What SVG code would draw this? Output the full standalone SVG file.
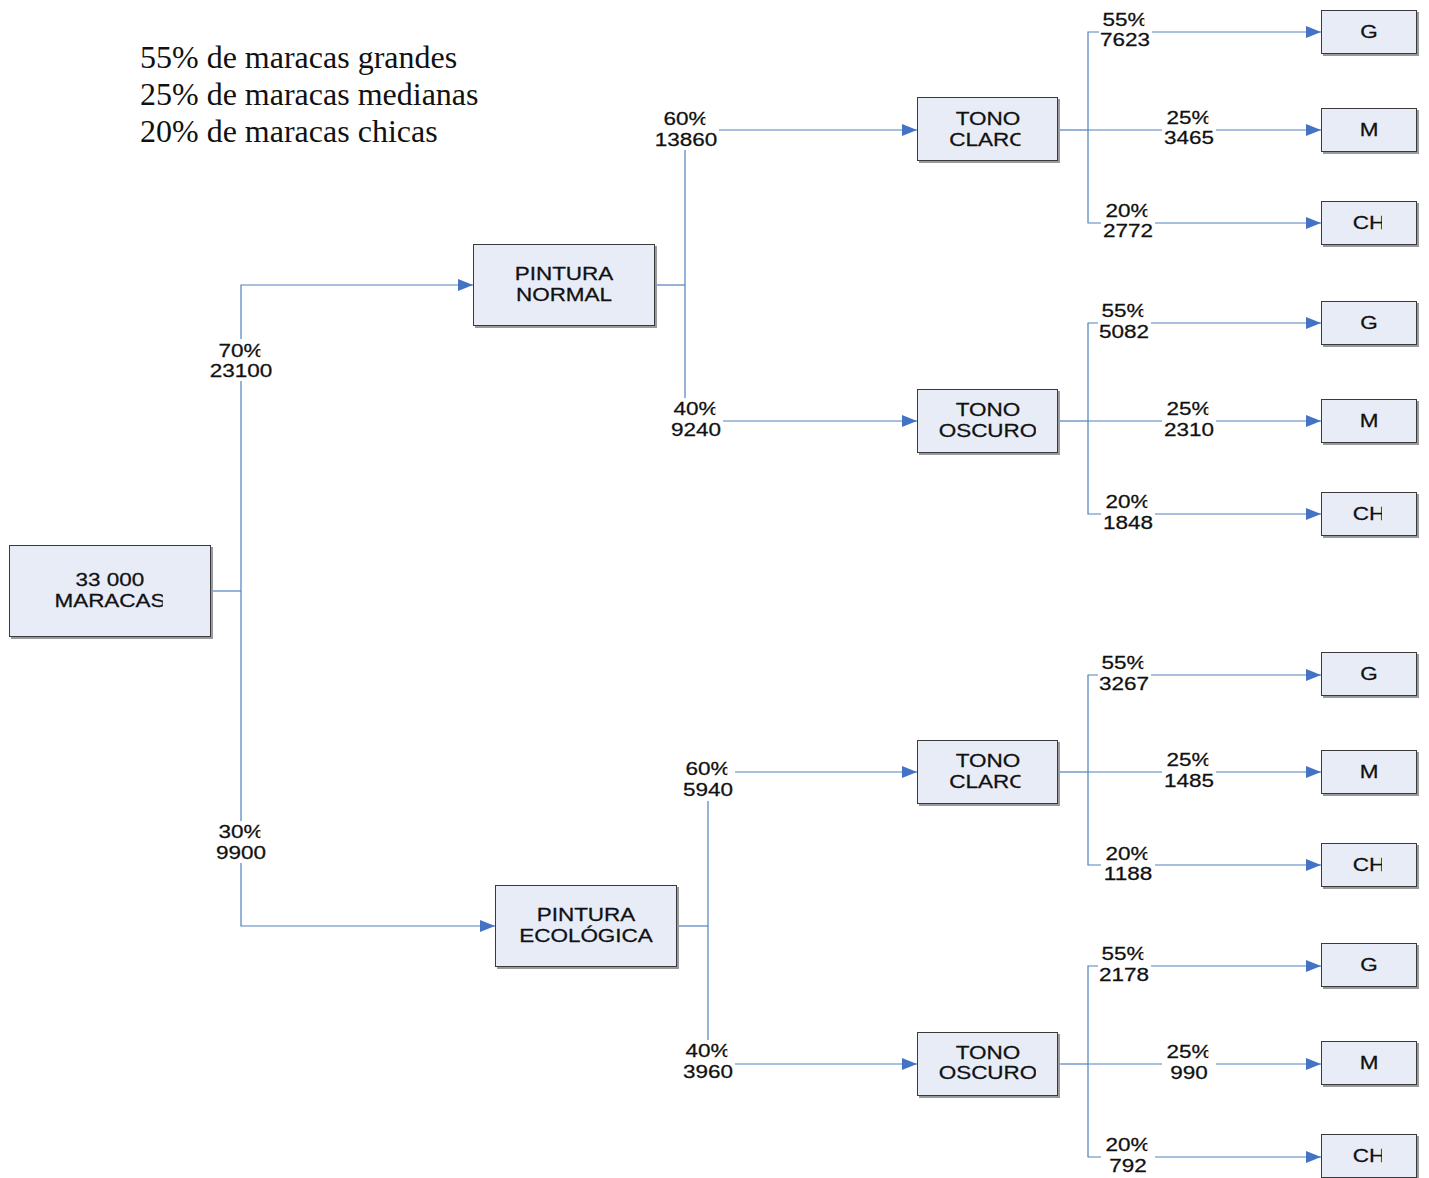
<svg xmlns="http://www.w3.org/2000/svg" width="1429" height="1178" viewBox="0 0 1429 1178">
  <style>
    .box{fill:#e7ecf7;stroke:#3a3a3a;stroke-width:1}
    .shd{fill:#9a9a9a}
    .t{font-family:"Liberation Sans",Arial,sans-serif;font-size:18px;fill:#111;stroke:#111;stroke-width:0.25;text-anchor:middle}
    .note{font-family:"Liberation Serif","Times New Roman",serif;font-size:32px;fill:#111}
    .ln{fill:none;stroke:#4f81bd;stroke-width:1.2}
    .arr{marker-end:url(#ah)}
    .bg{fill:#ffffff}
  </style>
  <defs>
    <marker id="ah" viewBox="0 0 15 12" refX="15" refY="6" markerWidth="15" markerHeight="12" markerUnits="userSpaceOnUse" orient="auto">
      <path d="M0,0 L15,6 L0,12 Z" fill="#4472c4"/>
    </marker>
    <!-- right-hand trims for text runs that overflow their cells -->
    <clipPath id="cPct" clipPathUnits="objectBoundingBox"><rect x="-0.2" y="-0.5" width="1.13" height="2"/></clipPath>
    <clipPath id="cClaro" clipPathUnits="objectBoundingBox"><rect x="-0.2" y="-0.5" width="1.12" height="2"/></clipPath>
    <clipPath id="cOscuro" clipPathUnits="objectBoundingBox"><rect x="-0.2" y="-0.5" width="1.185" height="2"/></clipPath>
    <clipPath id="cMaracas" clipPathUnits="objectBoundingBox"><rect x="-0.2" y="-0.5" width="1.175" height="2"/></clipPath>
    <clipPath id="cCh" clipPathUnits="objectBoundingBox"><rect x="-0.2" y="-0.5" width="1.1" height="2"/></clipPath>
  </defs>

  <rect width="1429" height="1178" fill="#ffffff"/>

  <!-- legend -->
  <g id="legend">
    <text class="note" x="140" y="68">55% de maracas grandes</text>
    <text class="note" x="140" y="105">25% de maracas medianas</text>
    <text class="note" x="140" y="142">20% de maracas chicas</text>
  </g>

  <!-- connectors -->
  <g id="connectors">
    <path class="ln" d="M211,591 H241"/>
    <path class="ln arr" d="M241,591 V285 H473"/>
    <path class="ln arr" d="M241,591 V926 H495"/>

    <path class="ln" d="M655,285 H685"/>
    <path class="ln arr" d="M685,285 V130 H917"/>
    <path class="ln arr" d="M685,285 V421 H917"/>

    <path class="ln" d="M677,926 H708"/>
    <path class="ln arr" d="M708,926 V772 H917"/>
    <path class="ln arr" d="M708,926 V1064 H917"/>

    <path class="ln" d="M1058,130 H1088"/>
    <path class="ln arr" d="M1088,130 V32 H1321"/>
    <path class="ln arr" d="M1088,130 H1321"/>
    <path class="ln arr" d="M1088,130 V223 H1321"/>

    <path class="ln" d="M1058,421 H1088"/>
    <path class="ln arr" d="M1088,421 V323 H1321"/>
    <path class="ln arr" d="M1088,421 H1321"/>
    <path class="ln arr" d="M1088,421 V514 H1321"/>

    <path class="ln" d="M1058,772 H1088"/>
    <path class="ln arr" d="M1088,772 V675 H1321"/>
    <path class="ln arr" d="M1088,772 H1321"/>
    <path class="ln arr" d="M1088,772 V865 H1321"/>

    <path class="ln" d="M1058,1064 H1088"/>
    <path class="ln arr" d="M1088,1064 V966 H1321"/>
    <path class="ln arr" d="M1088,1064 H1321"/>
    <path class="ln arr" d="M1088,1064 V1157 H1321"/>
  </g>

  <!-- connector labels (white plates break the lines) -->
  <g id="labels">
    <rect class="bg" x="208" y="339" width="67" height="42"/>
    <text class="t" clip-path="url(#cPct)" transform="matrix(1.25 0 0 1 241 357)">70%</text>
    <text class="t" transform="matrix(1.25 0 0 1 241 377)">23100</text>

    <rect class="bg" x="212" y="821" width="58" height="42"/>
    <text class="t" clip-path="url(#cPct)" transform="matrix(1.25 0 0 1 241 838)">30%</text>
    <text class="t" transform="matrix(1.25 0 0 1 241 859)">9900</text>

    <rect class="bg" x="653" y="108" width="66" height="42"/>
    <text class="t" clip-path="url(#cPct)" transform="matrix(1.25 0 0 1 686 125)">60%</text>
    <text class="t" transform="matrix(1.25 0 0 1 686 146)">13860</text>

    <rect class="bg" x="669" y="398" width="54" height="43"/>
    <text class="t" clip-path="url(#cPct)" transform="matrix(1.25 0 0 1 696 415)">40%</text>
    <text class="t" transform="matrix(1.25 0 0 1 696 436)">9240</text>

    <rect class="bg" x="681" y="758" width="54" height="43"/>
    <text class="t" clip-path="url(#cPct)" transform="matrix(1.25 0 0 1 708 775)">60%</text>
    <text class="t" transform="matrix(1.25 0 0 1 708 796)">5940</text>

    <rect class="bg" x="681" y="1040" width="54" height="43"/>
    <text class="t" clip-path="url(#cPct)" transform="matrix(1.25 0 0 1 708 1057)">40%</text>
    <text class="t" transform="matrix(1.25 0 0 1 708 1078)">3960</text>

    <!-- leaf branch labels -->
    <rect class="bg" x="1099" y="9" width="53" height="42"/>
    <text class="t" clip-path="url(#cPct)" transform="matrix(1.25 0 0 1 1125 26)">55%</text>
    <text class="t" transform="matrix(1.25 0 0 1 1125 46)">7623</text>
    <rect class="bg" x="1162" y="107" width="54" height="42"/>
    <text class="t" clip-path="url(#cPct)" transform="matrix(1.25 0 0 1 1189 124)">25%</text>
    <text class="t" transform="matrix(1.25 0 0 1 1189 144)">3465</text>
    <rect class="bg" x="1101" y="200" width="54" height="42"/>
    <text class="t" clip-path="url(#cPct)" transform="matrix(1.25 0 0 1 1128 217)">20%</text>
    <text class="t" transform="matrix(1.25 0 0 1 1128 237)">2772</text>

    <rect class="bg" x="1098" y="300" width="53" height="43"/>
    <text class="t" clip-path="url(#cPct)" transform="matrix(1.25 0 0 1 1124 317)">55%</text>
    <text class="t" transform="matrix(1.25 0 0 1 1124 338)">5082</text>
    <rect class="bg" x="1162" y="398" width="54" height="43"/>
    <text class="t" clip-path="url(#cPct)" transform="matrix(1.25 0 0 1 1189 415)">25%</text>
    <text class="t" transform="matrix(1.25 0 0 1 1189 436)">2310</text>
    <rect class="bg" x="1101" y="491" width="54" height="43"/>
    <text class="t" clip-path="url(#cPct)" transform="matrix(1.25 0 0 1 1128 508)">20%</text>
    <text class="t" transform="matrix(1.25 0 0 1 1128 529)">1848</text>

    <rect class="bg" x="1098" y="652" width="53" height="43"/>
    <text class="t" clip-path="url(#cPct)" transform="matrix(1.25 0 0 1 1124 669)">55%</text>
    <text class="t" transform="matrix(1.25 0 0 1 1124 690)">3267</text>
    <rect class="bg" x="1162" y="749" width="54" height="43"/>
    <text class="t" clip-path="url(#cPct)" transform="matrix(1.25 0 0 1 1189 766)">25%</text>
    <text class="t" transform="matrix(1.25 0 0 1 1189 787)">1485</text>
    <rect class="bg" x="1101" y="843" width="54" height="42"/>
    <text class="t" clip-path="url(#cPct)" transform="matrix(1.25 0 0 1 1128 860)">20%</text>
    <text class="t" transform="matrix(1.25 0 0 1 1128 880)">1188</text>

    <rect class="bg" x="1098" y="943" width="53" height="43"/>
    <text class="t" clip-path="url(#cPct)" transform="matrix(1.25 0 0 1 1124 960)">55%</text>
    <text class="t" transform="matrix(1.25 0 0 1 1124 981)">2178</text>
    <rect class="bg" x="1162" y="1041" width="54" height="43"/>
    <text class="t" clip-path="url(#cPct)" transform="matrix(1.25 0 0 1 1189 1058)">25%</text>
    <text class="t" transform="matrix(1.25 0 0 1 1189 1079)">990</text>
    <rect class="bg" x="1101" y="1134" width="54" height="44"/>
    <text class="t" clip-path="url(#cPct)" transform="matrix(1.25 0 0 1 1128 1151)">20%</text>
    <text class="t" transform="matrix(1.25 0 0 1 1128 1172)">792</text>
  </g>

  <!-- nodes -->
  <g id="root">
    <rect class="shd" x="11" y="547" width="202" height="92"/>
    <rect class="box" x="9.5" y="545.5" width="201" height="91"/>
    <text class="t" transform="matrix(1.25 0 0 1 110 586)">33 000</text>
    <text class="t" clip-path="url(#cMaracas)" transform="matrix(1.25 0 0 1 110 607)">MARACAS</text>
  </g>

  <g id="pintura-normal">
    <rect class="shd" x="475" y="246" width="182" height="82"/>
    <rect class="box" x="473.5" y="244.5" width="181" height="81"/>
    <text class="t" transform="matrix(1.25 0 0 1 564 280)">PINTURA</text>
    <text class="t" transform="matrix(1.25 0 0 1 564 301)">NORMAL</text>
  </g>

  <g id="pintura-ecologica">
    <rect class="shd" x="497" y="887" width="182" height="82"/>
    <rect class="box" x="495.5" y="885.5" width="181" height="81"/>
    <text class="t" transform="matrix(1.25 0 0 1 586 921)">PINTURA</text>
    <text class="t" transform="matrix(1.25 0 0 1 586 942)">ECOLÓGICA</text>
  </g>

  <g id="tono-claro-1">
    <rect class="shd" x="919" y="99" width="141" height="64"/>
    <rect class="box" x="917.5" y="97.5" width="140" height="63"/>
    <text class="t" transform="matrix(1.25 0 0 1 988 125)">TONO</text>
    <text class="t" clip-path="url(#cClaro)" transform="matrix(1.25 0 0 1 988 146)">CLARO</text>
  </g>

  <g id="tono-oscuro-1">
    <rect class="shd" x="919" y="391" width="141" height="64"/>
    <rect class="box" x="917.5" y="389.5" width="140" height="63"/>
    <text class="t" transform="matrix(1.25 0 0 1 988 416)">TONO</text>
    <text class="t" clip-path="url(#cOscuro)" transform="matrix(1.25 0 0 1 988 437)">OSCURO</text>
  </g>

  <g id="tono-claro-2">
    <rect class="shd" x="919" y="742" width="141" height="64"/>
    <rect class="box" x="917.5" y="740.5" width="140" height="63"/>
    <text class="t" transform="matrix(1.25 0 0 1 988 767)">TONO</text>
    <text class="t" clip-path="url(#cClaro)" transform="matrix(1.25 0 0 1 988 788)">CLARO</text>
  </g>

  <g id="tono-oscuro-2">
    <rect class="shd" x="919" y="1034" width="141" height="64"/>
    <rect class="box" x="917.5" y="1032.5" width="140" height="63"/>
    <text class="t" transform="matrix(1.25 0 0 1 988 1059)">TONO</text>
    <text class="t" clip-path="url(#cOscuro)" transform="matrix(1.25 0 0 1 988 1079)">OSCURO</text>
  </g>

  <!-- size leaves -->
  <g id="leaf-g-1"><rect class="shd" x="1323" y="12" width="96" height="44"/><rect class="box" x="1321.5" y="10.5" width="95" height="43"/><text class="t" transform="matrix(1.25 0 0 1 1369 38)">G</text></g>
  <g id="leaf-m-1"><rect class="shd" x="1323" y="110" width="96" height="44"/><rect class="box" x="1321.5" y="108.5" width="95" height="43"/><text class="t" transform="matrix(1.25 0 0 1 1369 136)">M</text></g>
  <g id="leaf-ch-1"><rect class="shd" x="1323" y="203" width="96" height="44"/><rect class="box" x="1321.5" y="201.5" width="95" height="43"/><text class="t" clip-path="url(#cCh)" transform="matrix(1.25 0 0 1 1369 229)">CH</text></g>

  <g id="leaf-g-2"><rect class="shd" x="1323" y="303" width="96" height="44"/><rect class="box" x="1321.5" y="301.5" width="95" height="43"/><text class="t" transform="matrix(1.25 0 0 1 1369 329)">G</text></g>
  <g id="leaf-m-2"><rect class="shd" x="1323" y="401" width="96" height="44"/><rect class="box" x="1321.5" y="399.5" width="95" height="43"/><text class="t" transform="matrix(1.25 0 0 1 1369 427)">M</text></g>
  <g id="leaf-ch-2"><rect class="shd" x="1323" y="494" width="96" height="44"/><rect class="box" x="1321.5" y="492.5" width="95" height="43"/><text class="t" clip-path="url(#cCh)" transform="matrix(1.25 0 0 1 1369 520)">CH</text></g>

  <g id="leaf-g-3"><rect class="shd" x="1323" y="654" width="96" height="44"/><rect class="box" x="1321.5" y="652.5" width="95" height="43"/><text class="t" transform="matrix(1.25 0 0 1 1369 680)">G</text></g>
  <g id="leaf-m-3"><rect class="shd" x="1323" y="752" width="96" height="44"/><rect class="box" x="1321.5" y="750.5" width="95" height="43"/><text class="t" transform="matrix(1.25 0 0 1 1369 778)">M</text></g>
  <g id="leaf-ch-3"><rect class="shd" x="1323" y="845" width="96" height="44"/><rect class="box" x="1321.5" y="843.5" width="95" height="43"/><text class="t" clip-path="url(#cCh)" transform="matrix(1.25 0 0 1 1369 871)">CH</text></g>

  <g id="leaf-g-4"><rect class="shd" x="1323" y="945" width="96" height="44"/><rect class="box" x="1321.5" y="943.5" width="95" height="43"/><text class="t" transform="matrix(1.25 0 0 1 1369 971)">G</text></g>
  <g id="leaf-m-4"><rect class="shd" x="1323" y="1043" width="96" height="44"/><rect class="box" x="1321.5" y="1041.5" width="95" height="43"/><text class="t" transform="matrix(1.25 0 0 1 1369 1069)">M</text></g>
  <g id="leaf-ch-4"><rect class="shd" x="1323" y="1136" width="96" height="44"/><rect class="box" x="1321.5" y="1134.5" width="95" height="43"/><text class="t" clip-path="url(#cCh)" transform="matrix(1.25 0 0 1 1369 1162)">CH</text></g>
</svg>
